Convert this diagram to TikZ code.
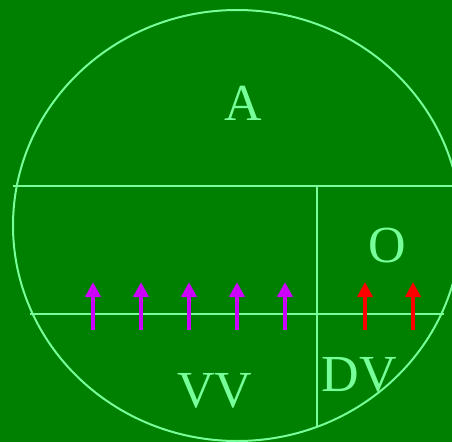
\documentclass[tikz,border=0pt]{standalone}
\usepackage{fontspec}
\setmainfont{Liberation Serif}
\usepackage{xcolor}
\definecolor{FieldGreen}{HTML}{008000}
\definecolor{PaleLine}{HTML}{77FF99}
\definecolor{FlowPurple}{HTML}{CC00FF}
\definecolor{FlowRed}{HTML}{FF0000}
\usetikzlibrary{arrows.meta}

\begin{document}
\begin{tikzpicture}[
  x=1pt,y=-1pt,
  part/.style={line width=2pt,draw=PaleLine},
  region/.style={anchor=base,text=PaleLine,inner sep=0pt,font=\fontsize{52}{52}\selectfont},
  flow/.style={-{Triangle[length=15pt,width=15pt]},line width=4pt}
]
\useasboundingbox[fill=FieldGreen] (0,0) rectangle (452,442);
\clip (0,0) rectangle (452,442);
% outline and divisions
\draw[part] (237,225.5) ellipse [x radius=224pt,y radius=215.5pt];
\coordinate (topL) at (13,186);
\coordinate (topR) at (452,186);
\coordinate (midL) at (30,313.5);
\coordinate (midR) at (444,313.5);
\coordinate (splitT) at (317,186);
\coordinate (splitB) at (317,426.5);
\draw[part] (topL) -- (topR);
\draw[part] (midL) -- (midR);
\draw[part] (splitT) -- (splitB);
% labels
\node[region] (atrium) at (243,120) {A};
\node[region] (outlet) at (387,262) {O};
\node[region] (ventral) at (215,407) {VV};
\node[region] (dorsal) at (359.5,391) {DV};
% arrows
\foreach \i/\xx in {1/93,2/141,3/189,4/237,5/285} {
  \coordinate (pTail\i) at (\xx,330);
  \coordinate (pTip\i) at (\xx,282);
  \draw[flow,FlowPurple] (pTail\i) -- (pTip\i);
}
\foreach \i/\xx in {1/365,2/413} {
  \coordinate (rTail\i) at (\xx,330);
  \coordinate (rTip\i) at (\xx,282);
  \draw[flow,FlowRed] (rTail\i) -- (rTip\i);
}
\end{tikzpicture}
\end{document}
